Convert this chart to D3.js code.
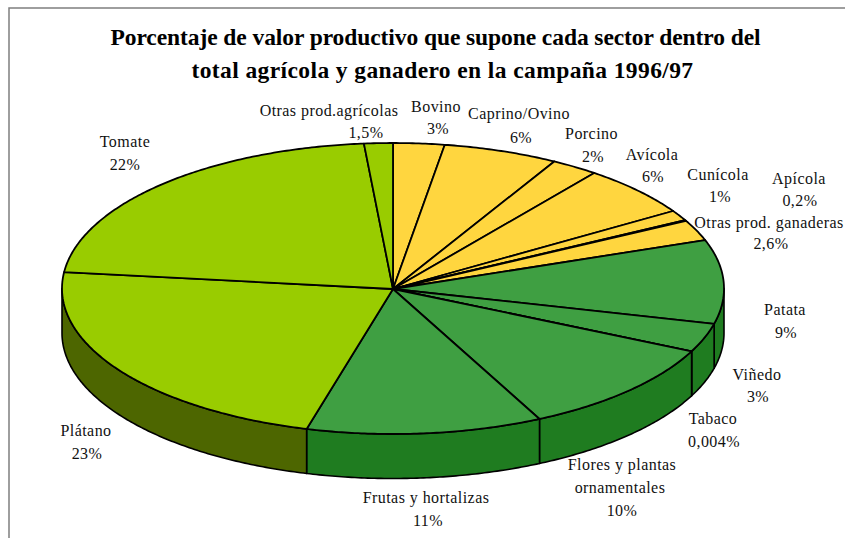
<!DOCTYPE html>
<html><head><meta charset="utf-8">
<script src="https://cdn.jsdelivr.net/npm/d3@7"></script>
<style>html,body{margin:0;padding:0;background:#fff;overflow:hidden}svg{display:block}</style>
</head><body><div id="c"></div>
<script>
// Printed labels, clockwise from 12 o'clock
const categories = ["Bovino","Caprino/Ovino","Porcino","Avícola","Cunícola","Apícola","Otras prod. ganaderas","Patata","Viñedo","Tabaco","Flores y plantas ornamentales","Frutas y hortalizas","Plátano","Tomate","Otras prod.agrícolas"];
const percentLabels = ["3%","6%","2%","6%","1%","0,2%","2,6%","9%","3%","0,004%","10%","11%","23%","22%","1,5%"];
// Slice shares as drawn in the picture (percent, estimated from the slice edges)
const values = [2.5,5.6,2.3,5.66,1.16,0.08,2.3,9.3,3.2,0.004,10.6,11.5,22.6,21.8,1.4];
const groups = ["g","g","g","g","g","g","g","v","v","v","v","v","p","p","p"];

const W=845,H=538,cx=393,cy=288.5,rx=331,ry=145.5,depth=44.5;
const topColor={g:"#FFD63F",v:"#3F9F42",p:"#99CC00"};
const sideColor={g:"#A88A20",v:"#1F7C20",p:"#4D6600"};
const FONT='"Liberation Serif","Times New Roman",serif';

const svg=d3.select("#c").append("svg").attr("width",W).attr("height",H);
svg.append("rect").attr("width",W).attr("height",H).attr("fill","#fff");
svg.append("path").attr("d",d3.line()([[9,H],[9,8],[W,8]])).attr("fill","none").attr("stroke","#7f7f7f").attr("stroke-width",1.5);

const X=d3.scaleLinear().domain([-1,1]).range([cx-rx,cx+rx]);
const Y=d3.scaleLinear().domain([-1,1]).range([cy-ry,cy+ry]);
const pt=(a,dz=0)=>[X(Math.sin(a)),Y(-Math.cos(a))+dz];
const arcs=d3.pie().sort(null).startAngle(0).endAngle(2*Math.PI)(values);
const line=d3.line();
const samples=(a0,a1,dz)=>{const n=Math.max(2,Math.ceil((a1-a0)/0.01));return d3.range(n+1).map(i=>pt(a0+(a1-a0)*i/n,dz));};

// walls
const gW=svg.append("g");
arcs.forEach((d,i)=>{
  const a0=Math.max(d.startAngle,Math.PI/2),a1=Math.min(d.endAngle,3*Math.PI/2);
  if(a1<=a0)return;
  const upper=samples(a0,a1,0),lower=samples(a0,a1,depth).reverse();
  gW.append("path").attr("d",line(upper.concat(lower))+"Z").attr("fill",sideColor[groups[i]]).attr("stroke","#000").attr("stroke-width",1.6).attr("stroke-linejoin","round");
});
// top
const gT=svg.append("g");
arcs.forEach((d,i)=>{
  const p=[[X(0),Y(0)+0.5]].concat(samples(d.startAngle,d.endAngle,0));
  gT.append("path").attr("d",line(p)+"Z").attr("fill",topColor[groups[i]]).attr("stroke","#000").attr("stroke-width",1.8).attr("stroke-linejoin","round");
});

// label placement: [centre x, baseline] of name line(s) and percent line
const nameLines=categories.map(c=>c==="Flores y plantas ornamentales"?["Flores y plantas","ornamentales"]:[c]);
const namePos=[[[436,112]],[[519,119]],[[591.5,139]],[[652,160]],[[718,180]],[[799,184]],[[769,228]],[[785,315]],[[757,380]],[[713,424]],[[622,470],[620,493]],[[426,503]],[[86,436]],[[125,147]],[[329,116]]];
const pctPos=[[438,134],[521,143],[593,162],[653,182],[720,202],[800,206],[771,249],[786,338],[758,402],[714,447],[622,516],[428,526],[87,459],[125,170],[366,138]];
const gL=svg.append("g").attr("font-family",FONT).attr("font-size",16).attr("fill","#111").attr("text-anchor","middle").attr("letter-spacing","0.45px");
categories.forEach((c,i)=>{
  nameLines[i].forEach((t,j)=>gL.append("text").attr("x",namePos[i][j][0]).attr("y",namePos[i][j][1]).text(t));
  gL.append("text").attr("x",pctPos[i][0]).attr("y",pctPos[i][1]).text(percentLabels[i]);
});

const titleLines=["Porcentaje de valor productivo que supone cada sector dentro del","total agrícola y ganadero en la campaña 1996/97"];
const titlePos=[[435.5,45],[442.5,78]];
const titleSpacing=["-0.08px","0.4px"];
svg.append("g").attr("font-family",FONT).attr("font-size",23.5).attr("font-weight","bold").attr("fill","#000").attr("text-anchor","middle")
 .selectAll("text").data(titleLines).join("text").attr("x",(d,i)=>titlePos[i][0]).attr("y",(d,i)=>titlePos[i][1]).attr("letter-spacing",(d,i)=>titleSpacing[i]).text(d=>d);
</script></body></html>
